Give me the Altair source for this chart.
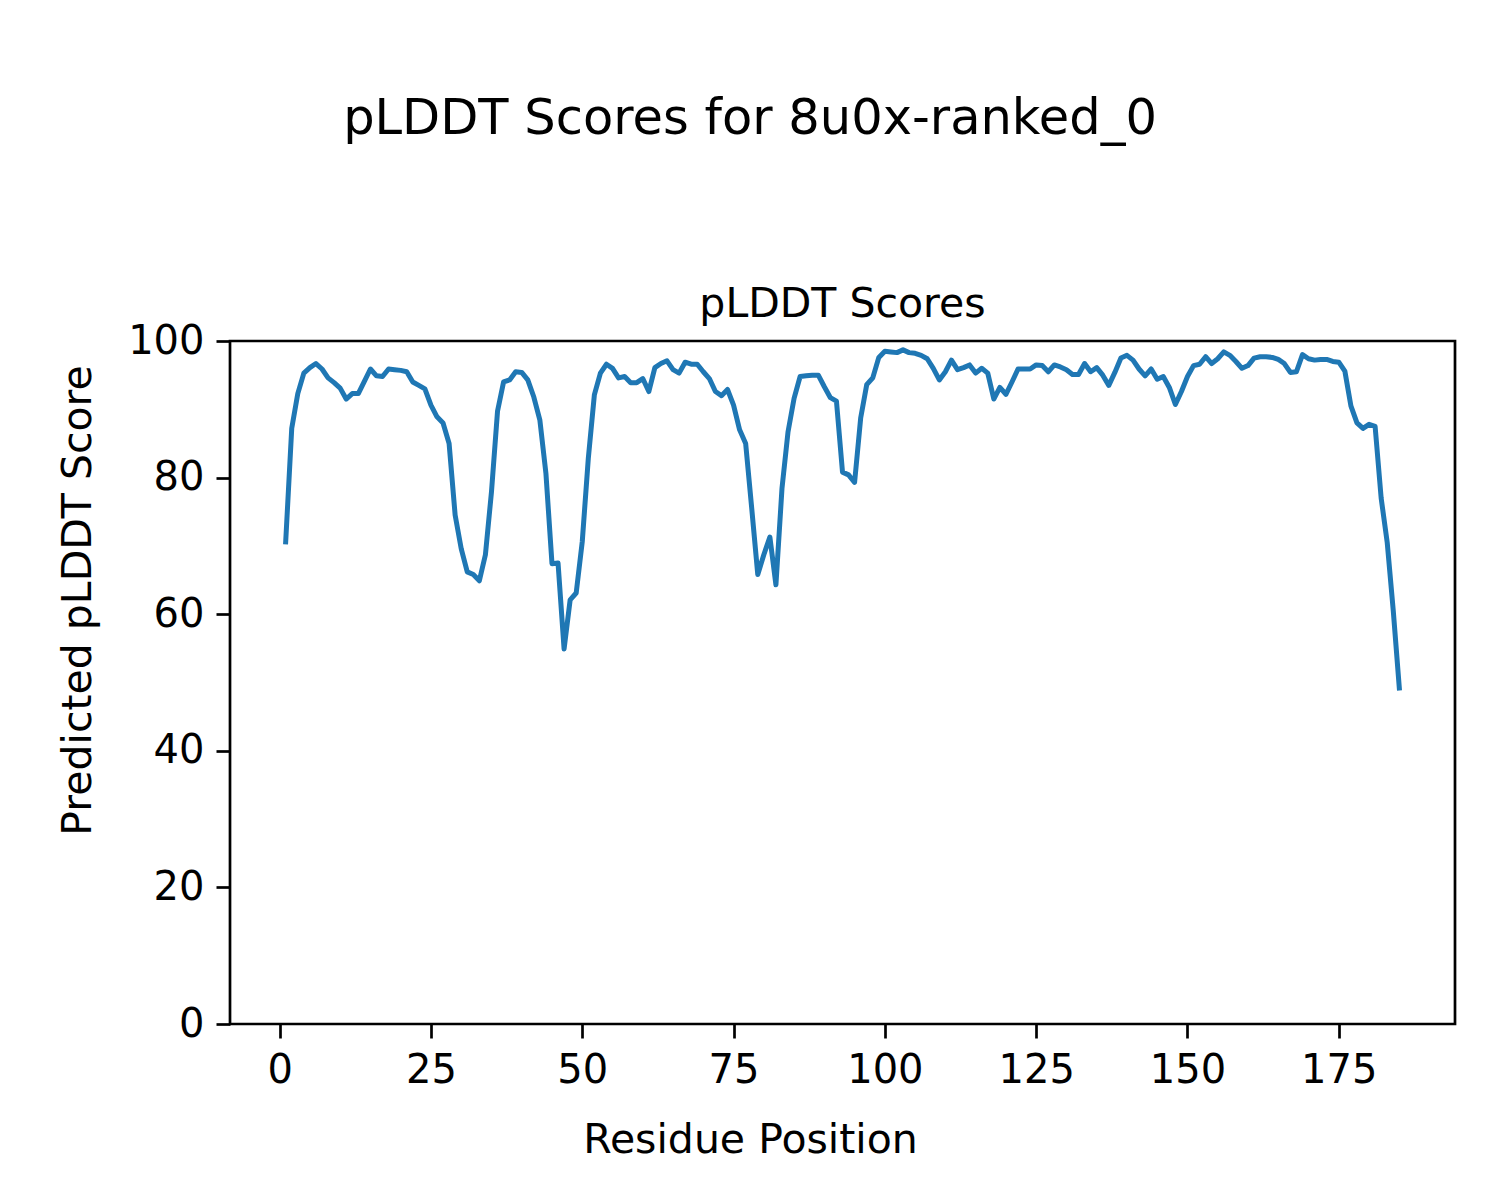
import altair as alt
import pandas as pd

SUPTITLE = "pLDDT Scores for 8u0x-ranked_0"
AXES_TITLE = "pLDDT Scores"
X_LABEL = "Residue Position"
Y_LABEL = "Predicted pLDDT Score"

x_ticks = [0, 25, 50, 75, 100, 125, 150, 175]
y_ticks = [0, 20, 40, 60, 80, 100]

scores = [
    70.6, 87.2, 92.3, 95.3, 96.1, 96.7, 95.9, 94.6, 93.9, 93.1,
    91.5, 92.3, 92.3, 94.1, 95.9, 94.9, 94.8, 95.9, 95.8, 95.7,
    95.5, 94.0, 93.5, 93.0, 90.6, 88.9, 88.0, 85.0, 74.5, 69.6,
    66.2, 65.8, 64.9, 68.7, 77.9, 89.7, 94.0, 94.3, 95.5, 95.4,
    94.3, 91.8, 88.4, 80.6, 67.4, 67.5, 54.9, 62.1, 63.1, 70.6,
    82.8, 92.1, 95.3, 96.6, 96.0, 94.6, 94.8, 93.9, 93.9, 94.5,
    92.6, 96.1, 96.7, 97.1, 95.8, 95.3, 96.9, 96.6, 96.6, 95.5,
    94.5, 92.6, 92.0, 92.9, 90.6, 87.0, 85.0, 75.5, 65.8, 68.7,
    71.3, 64.3, 78.4, 86.7, 91.6, 94.8, 94.9, 95.0, 95.0, 93.3,
    91.7, 91.2, 80.8, 80.4, 79.3, 88.7, 93.6, 94.6, 97.6, 98.5,
    98.4, 98.3, 98.7, 98.3, 98.2, 97.9, 97.4, 96.0, 94.3, 95.5,
    97.2, 95.8, 96.1, 96.5, 95.3, 96.0, 95.3, 91.5, 93.2, 92.2,
    94.0, 95.9, 95.9, 95.9, 96.5, 96.4, 95.5, 96.5, 96.2, 95.8,
    95.1, 95.1, 96.7, 95.5, 96.1, 95.0, 93.5, 95.4, 97.5, 97.9,
    97.2, 95.9, 94.9, 95.9, 94.4, 94.8, 93.2, 90.7, 92.6, 94.8,
    96.4, 96.6, 97.7, 96.7, 97.4, 98.4, 97.9, 97.0, 96.0, 96.4,
    97.5, 97.7, 97.7, 97.6, 97.3, 96.7, 95.4, 95.5, 98.0, 97.4,
    97.2, 97.3, 97.3, 97.0, 96.9, 95.6, 90.5, 88.0, 87.2, 87.8,
    87.5, 77.0, 70.5, 60.5, 49.2,
]
residues = list(range(1, len(scores) + 1))

df = pd.DataFrame({"residue": residues, "plddt": scores})

FONT = "DejaVu Sans"
W, H = 1225, 683

line = alt.Chart(df).mark_line(
    color="#1f77b4", strokeWidth=5, strokeCap="square", strokeJoin="round"
).encode(
    x=alt.X(
        "residue:Q",
        scale=alt.Scale(domain=[-8.2, 194.2], nice=False, zero=False),
        axis=alt.Axis(
            values=x_ticks, title=X_LABEL, format="d",
            titleX=520, titleY=128, titleAlign="center", titleBaseline="alphabetic",
            titleAnchor="start",
        ),
    ),
    y=alt.Y(
        "plddt:Q",
        scale=alt.Scale(domain=[0, 100], nice=False),
        axis=alt.Axis(
            values=y_ticks, title=Y_LABEL, format="d",
            titleX=-140, titleY=259, titleAngle=270, titleAlign="center",
            titleBaseline="alphabetic", titleAnchor="start",
        ),
    ),
)

axes_title = alt.Chart(pd.DataFrame({"t": [AXES_TITLE]})).mark_text(
    font=FONT, fontSize=41, color="black", align="center", baseline="alphabetic"
).encode(text="t:N", x=alt.value(W / 2), y=alt.value(-24.5))

chart = alt.layer(line, axes_title).properties(
    width=W,
    height=H,
    title=alt.TitleParams(
        SUPTITLE, font=FONT, fontSize=49.5, fontWeight="normal", color="black",
        anchor="middle", frame="group", dx=-92.5, baseline="alphabetic", offset=100,
    ),
    padding={"left": 222, "top": 333, "right": 37, "bottom": 168},
    autosize=alt.AutoSizeParams(type="none"),
).configure_view(
    stroke="black", strokeWidth=2.7
).configure_axis(
    grid=False, domain=False,
    ticks=True, tickColor="black", tickWidth=2.7, tickSize=14,
    labelFont=FONT, labelFontSize=40, labelColor="black", labelPadding=12,
    titleFont=FONT, titleFontSize=41, titleColor="black", titleFontWeight="normal",
)

chart.save("out.html", embed_options={"renderer": "svg", "actions": False})
